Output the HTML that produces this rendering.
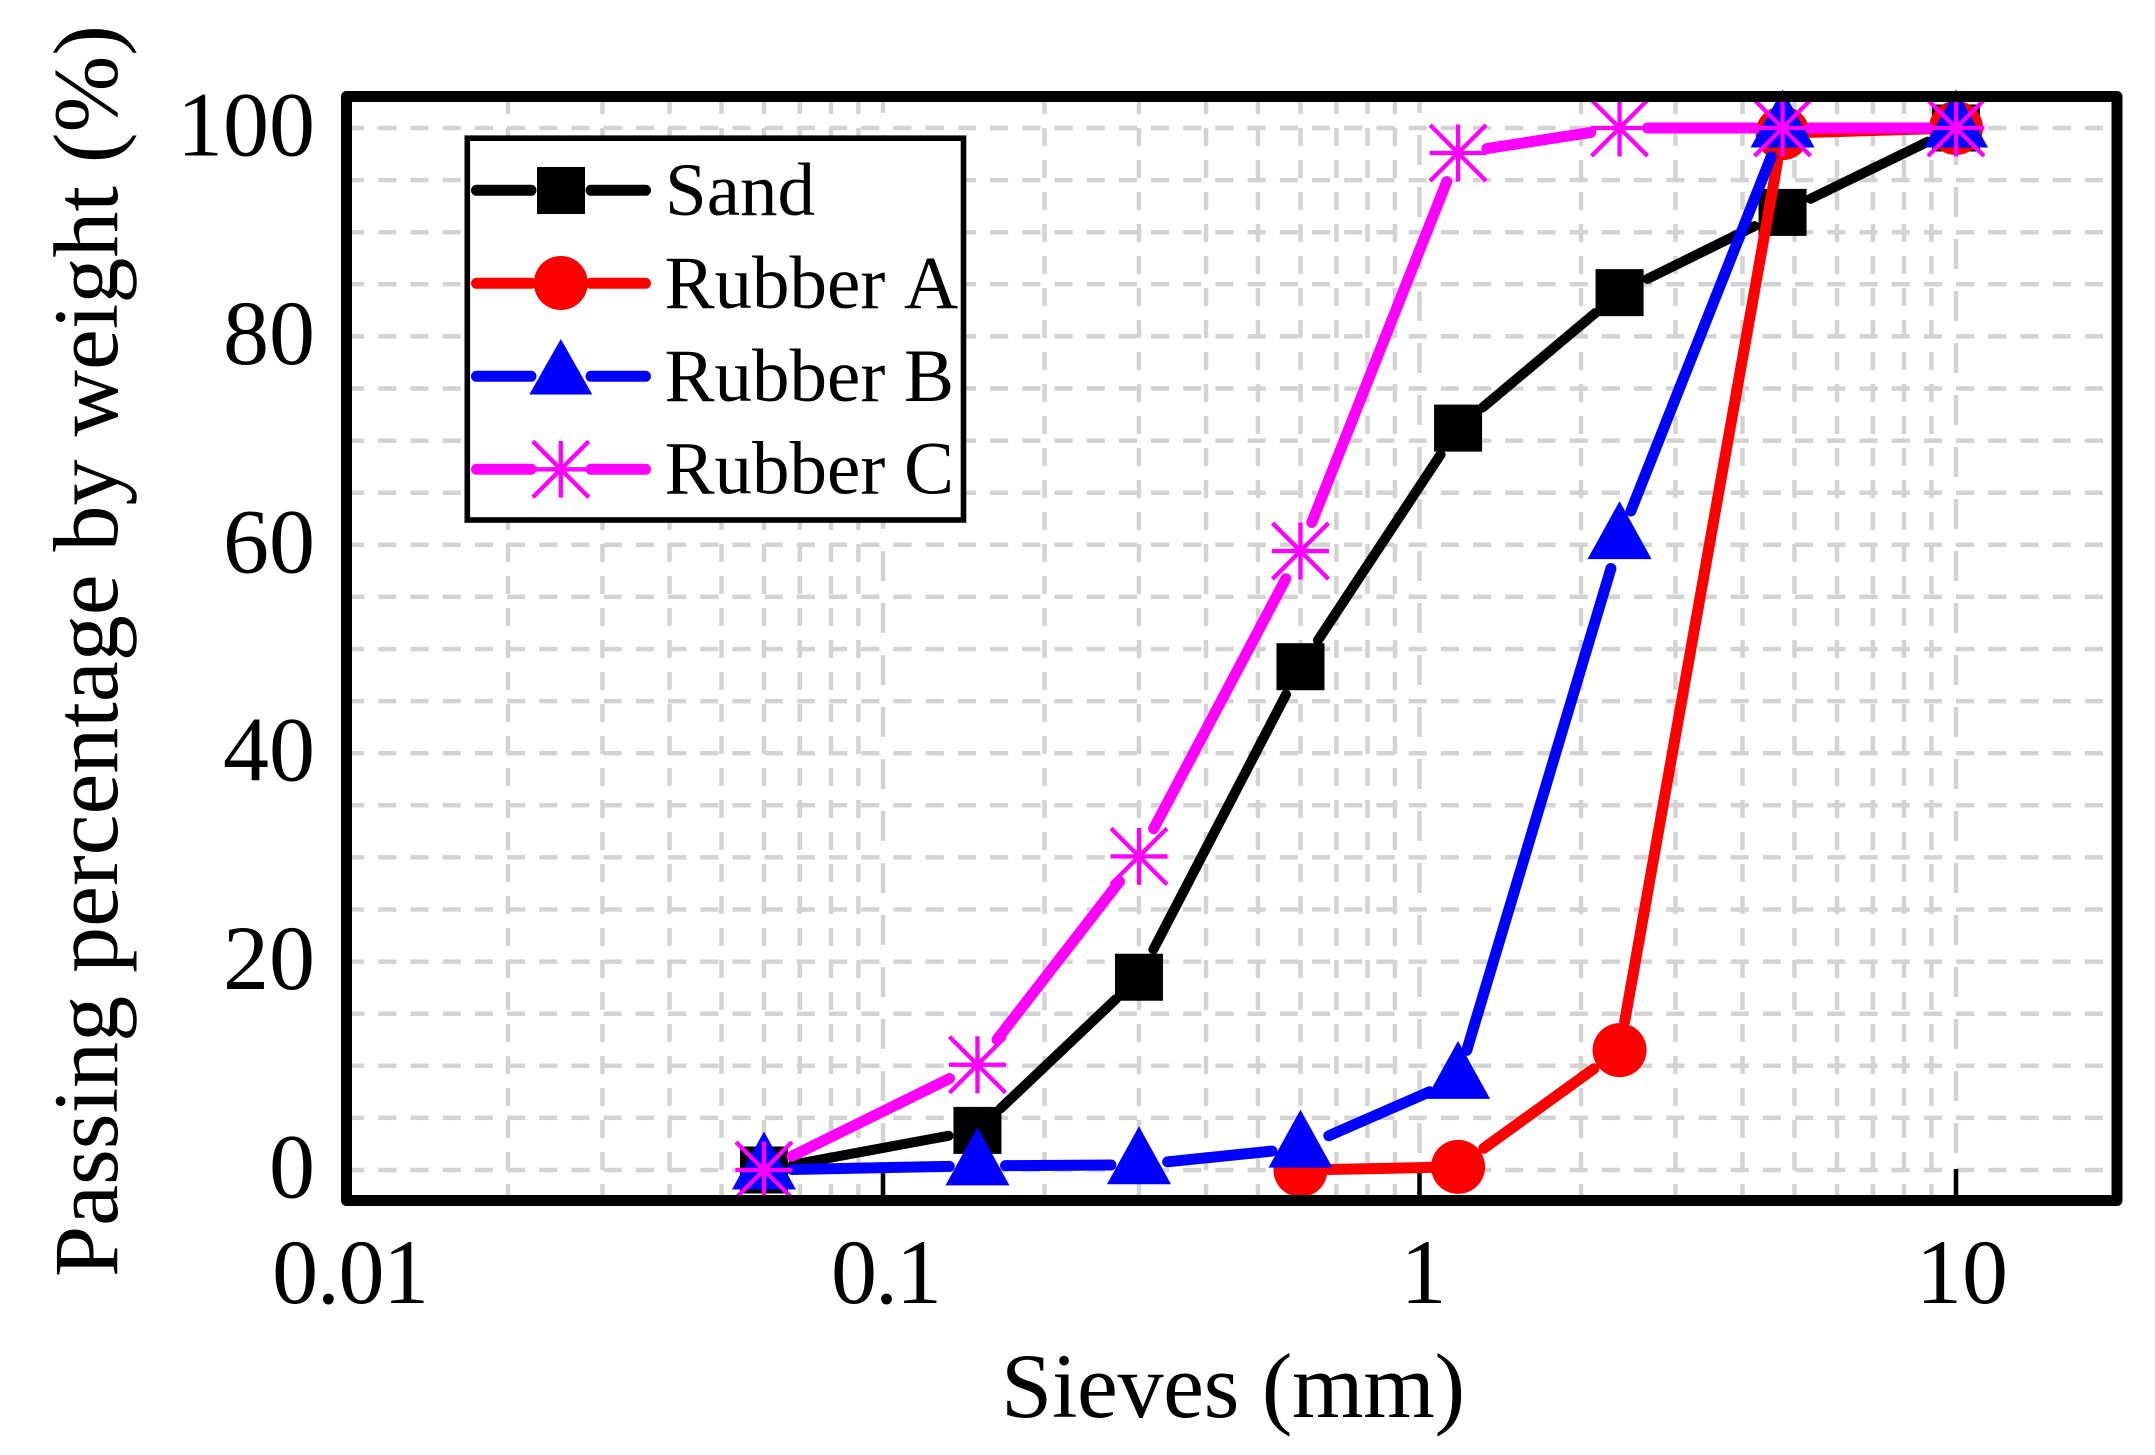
<!DOCTYPE html>
<html lang="en">
<head>
<meta charset="utf-8">
<title>Passing percentage by weight vs sieve size</title>
<style>
  html, body { margin: 0; padding: 0; background: #fff; }
  svg { display: block; }
  text { font-family: "Liberation Serif", serif; fill: #000; }
  .nokern { font-kerning: none; }
</style>
</head>
<body>
<svg id="chart" xmlns="http://www.w3.org/2000/svg" width="2155" height="1455" viewBox="0 0 2155 1455">
  <rect x="0" y="0" width="2155" height="1455" fill="#fff"/>
  <g id="grid"></g>
  <g id="ticks"></g>
  <g id="series"></g>
  <rect x="346.5" y="96.5" width="1770.5" height="1104" fill="none" stroke="#000" stroke-width="11" stroke-linejoin="round"/>
  <g id="labels"></g>
  <text x="1001" y="1417" font-size="92" letter-spacing="-0.35">Sieves (mm)</text>
  <text class="nokern" transform="translate(117,1277) rotate(-90)" font-size="92">Passing percentage by weight (%)</text>

  <g>
    <rect x="467.3" y="138.2" width="496.2" height="381.8" fill="#fff" stroke="#000" stroke-width="5.6"/>
    <g>
      <line x1="476.5" y1="190.3" x2="531" y2="190.3" stroke="#000" stroke-width="11" stroke-linecap="round"/>
      <line x1="591" y1="190.3" x2="645.5" y2="190.3" stroke="#000" stroke-width="11" stroke-linecap="round"/>
      <rect x="537" y="167" width="48" height="47" fill="#000"/>
      <text class="nokern" x="665" y="215" font-size="75">Sand</text>
    </g>
    <g>
      <line x1="476.5" y1="283.3" x2="531" y2="283.3" stroke="#f00" stroke-width="11" stroke-linecap="round"/>
      <line x1="591" y1="283.3" x2="645.5" y2="283.3" stroke="#f00" stroke-width="11" stroke-linecap="round"/>
      <circle cx="560.8" cy="283" r="27" fill="#f00"/>
      <text class="nokern" x="664.5" y="308" font-size="75">Rubber A</text>
    </g>
    <g>
      <line x1="476.5" y1="376.3" x2="531" y2="376.3" stroke="#00f" stroke-width="11" stroke-linecap="round"/>
      <line x1="591" y1="376.3" x2="645.5" y2="376.3" stroke="#00f" stroke-width="11" stroke-linecap="round"/>
      <polygon points="560.8,339 592.3,394.5 529.3,394.5" fill="#00f"/>
      <text class="nokern" x="664.5" y="401" font-size="75">Rubber B</text>
    </g>
    <g>
      <line x1="476.5" y1="469.3" x2="531" y2="469.3" stroke="#f0f" stroke-width="11" stroke-linecap="round"/>
      <line x1="591" y1="469.3" x2="645.5" y2="469.3" stroke="#f0f" stroke-width="11" stroke-linecap="round"/>
      <g stroke="#f0f" stroke-width="4.3">
        <line x1="560.8" y1="441" x2="560.8" y2="497.6"/>
        <line x1="532.8" y1="469.3" x2="588.8" y2="469.3"/>
        <line x1="532.8" y1="441.3" x2="588.8" y2="497.3"/>
        <line x1="588.8" y1="441.3" x2="532.8" y2="497.3"/>
      </g>
      <text class="nokern" x="664.5" y="493.5" font-size="75">Rubber C</text>
    </g>
  </g>
</svg>
<script>
// ---- chart data ----
const sieves = [0.06, 0.15, 0.3, 0.6, 1.18, 2.36, 4.75, 10];
const sandValues = [0, 3.8, 18.5, 48.3, 71.2, 84.2, 91.9, 100];
const rubberAValues = [null, null, null, 0, 0.3, 11.5, 99.5, 100];
const rubberBValues = [0, 0.4, 0.5, 2.1, 8.7, 60.5, 100, 100];
const rubberCValues = [0, 10.1, 30.1, 59.4, 97.6, 100, 100, 100];
const xTickValues = [0.01, 0.1, 1, 10];
const xTickLabels = ['0.01', '0.1', '1', '10'];
const yTickValues = [0, 20, 40, 60, 80, 100];
const yTickLabels = ['0', '20', '40', '60', '80', '100'];

// ---- axis functions ----
const X_LEFT = 346.5, X_DECADE = 536.5;
const Y_ZERO = 1170, Y_UNIT = 10.42;
function xScale(v) { return X_LEFT + (Math.log10(v) + 2) * X_DECADE; }
function yScale(v) { return Y_ZERO - v * Y_UNIT; }

const NS = 'http://www.w3.org/2000/svg';
function make(tag, attrs, parent) {
  const el = document.createElementNS(NS, tag);
  for (const k in attrs) el.setAttribute(k, attrs[k]);
  parent.appendChild(el);
  return el;
}

// ---- grid ----
const grid = document.getElementById('grid');
const GRID = '#d3d3d3';
for (let v = 0; v <= 100; v += 5) {
  const hl = make('line', { x1: 346, x2: 2112, y1: yScale(v), y2: yScale(v), stroke: GRID, 'stroke-width': 4.5, 'stroke-dasharray': '18.2 14' }, grid);
  
  
}
for (let d = -2; d <= 1; d++) {
  for (let m = 1; m <= 9; m++) {
    const val = m * Math.pow(10, d);
    if (val > 20) continue;
    if (m === 1 && d === -2) continue;
    const gx = xScale(val);
    const isMajor = m === 1;
    const vl = make('line', {
      x1: gx, x2: gx, y1: 96, y2: 1195, stroke: GRID, 'stroke-width': 4.5,
      'stroke-dasharray': isMajor ? '30 22' : '18 14',
      'stroke-dashoffset': isMajor ? 13 : 0
    }, grid);
    
    
  }
}

// ---- major ticks ----
const ticks = document.getElementById('ticks');
xTickValues.slice(1).forEach(function (v) {
  const t = make('line', { x1: xScale(v), x2: xScale(v), y1: 1169, y2: 1196, stroke: '#000', 'stroke-width': 4.5 }, ticks);
  
  
});

// ---- tick labels ----
const labels = document.getElementById('labels');
xTickValues.forEach(function (v, i) {
  const s = xTickLabels[i];
  const shift = s === '0.01' ? 3.5 : s === '0.1' ? 2.5 : s === '10' ? 6 : 4;
  const spacing = s.indexOf('.') >= 0 ? -4 / (s.length - 1) : 0;
  const t = make('text', { x: xScale(v) + shift, y: 1303, 'font-size': 92, 'text-anchor': 'middle', 'letter-spacing': spacing }, labels);
  
  
  t.textContent = s;
});
yTickValues.forEach(function (v, i) {
  const t = make('text', { x: 315, y: yScale(v) + 27.5, 'font-size': 92, 'text-anchor': 'end' }, labels);
  
  
  t.textContent = yTickLabels[i];
});

// ---- series ----
const seriesRoot = document.getElementById('series');
function drawLine(g, values, color, width) {
  let prev = null;
  values.forEach(function (v, i) {
    if (v === null) return;
    const p = { x: xScale(sieves[i]), y: yScale(v) };
    if (prev) {
      const dx = p.x - prev.x, dy = p.y - prev.y;
      const len = Math.hypot(dx, dy);
      const theta = Math.atan2(dy, dx);
      const gap = 28 + 4 * Math.abs(Math.sin(2 * theta));
      if (len > 2 * gap) {
        const ux = dx / len, uy = dy / len;
        const seg = make('line', {
          x1: prev.x + ux * gap, y1: prev.y + uy * gap,
          x2: p.x - ux * gap, y2: p.y - uy * gap,
          stroke: color, 'stroke-width': width, 'stroke-linecap': 'round'
        }, g);
        
        
      }
    }
    prev = p;
  });
}
function drawMarker(g, kind, cx, cy, color) {
  let el;
  if (kind === 'square') {
    el = make('rect', { x: cx - 24, y: cy - 23.5, width: 48, height: 47, fill: color }, g);
  } else if (kind === 'circle') {
    el = make('circle', { cx: cx, cy: cy, r: 27, fill: color }, g);
  } else if (kind === 'triangle') {
    el = make('polygon', { points: cx + ',' + (cy - 38.5) + ' ' + (cx + 32) + ',' + (cy + 19.5) + ' ' + (cx - 32) + ',' + (cy + 19.5), fill: color }, g);
  } else {
    el = make('path', {
      d: 'M' + cx + ' ' + (cy - 28.5) + 'V' + (cy + 28.5) +
         'M' + (cx - 28.5) + ' ' + cy + 'H' + (cx + 28.5) +
         'M' + (cx - 28) + ' ' + (cy - 28) + 'L' + (cx + 28) + ' ' + (cy + 28) +
         'M' + (cx + 28) + ' ' + (cy - 28) + 'L' + (cx - 28) + ' ' + (cy + 28),
      stroke: color, 'stroke-width': 4.3, fill: 'none'
    }, g);
  }
  
  
}
function drawSeries(name, values, color, kind, width) {
  const g = make('g', {}, seriesRoot);
  
  
  drawLine(g, values, color, width);
  values.forEach(function (v, i) {
    if (v === null) return;
    drawMarker(g, kind, xScale(sieves[i]), yScale(v), color);
  });
}
drawSeries('series-sand', sandValues, '#000', 'square', 10);
drawSeries('series-rubber-a', rubberAValues, '#f00', 'circle', 11);
drawSeries('series-rubber-b', rubberBValues, '#00f', 'triangle', 11);
drawSeries('series-rubber-c', rubberCValues, '#f0f', 'asterisk', 11);
</script>
</body>
</html>
